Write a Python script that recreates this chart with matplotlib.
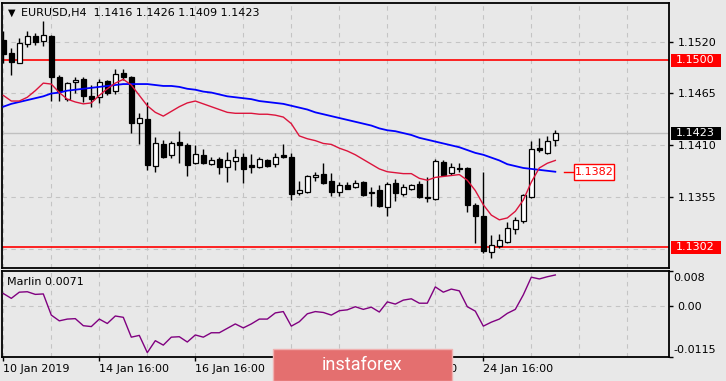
"""
EURUSD H4 chart with two moving averages and the Marlin oscillator,
redrawn in the style of a MetaTrader terminal screenshot.

Output: out.png (726x381)
"""

import numpy as np
import matplotlib
matplotlib.use('Agg')  # no display
import matplotlib.pyplot as plt
from matplotlib.patches import Rectangle
from matplotlib.transforms import blended_transform_factory

plt.rcParams['font.family'] = ['DejaVu Sans']

# ---------------- data (one entry per H4 bar) ----------------
opens = [1.1522, 1.1508, 1.1497, 1.1518, 1.1526, 1.1521, 1.1526, 1.1483, 1.1459, 1.1477,
         1.1480, 1.1462, 1.1461, 1.1478, 1.1468, 1.1487, 1.1483, 1.1434, 1.1438, 1.1388,
         1.1411, 1.1400, 1.1414, 1.1410, 1.1391, 1.1400, 1.1390, 1.1396, 1.1387, 1.1393,
         1.1398, 1.1389, 1.1387, 1.1394, 1.1390, 1.1400, 1.1398, 1.1359, 1.1360, 1.1376,
         1.1380, 1.1372, 1.1361, 1.1368, 1.1366, 1.1371, 1.1359, 1.1363, 1.1345, 1.1370,
         1.1358, 1.1364, 1.1369, 1.1355, 1.1353, 1.1392, 1.1381, 1.1386, 1.1386, 1.1347,
         1.1335, 1.1297, 1.1303, 1.1307, 1.1321, 1.1330, 1.1355, 1.1407, 1.1402, 1.1416]
highs = [1.1531, 1.1513, 1.1524, 1.1531, 1.1529, 1.1542, 1.1527, 1.1485, 1.1477, 1.1483,
         1.1483, 1.1474, 1.1480, 1.1479, 1.1491, 1.1491, 1.1484, 1.1444, 1.1456, 1.1419,
         1.1416, 1.1415, 1.1425, 1.1412, 1.1410, 1.1406, 1.1398, 1.1398, 1.1403, 1.1406,
         1.1402, 1.1401, 1.1398, 1.1396, 1.1402, 1.1411, 1.1402, 1.1372, 1.1379, 1.1382,
         1.1391, 1.1381, 1.1371, 1.1371, 1.1373, 1.1372, 1.1366, 1.1368, 1.1371, 1.1374,
         1.1369, 1.1369, 1.1372, 1.1376, 1.1396, 1.1394, 1.1391, 1.1391, 1.1387, 1.1349,
         1.1382, 1.1315, 1.1316, 1.1329, 1.1334, 1.1358, 1.1415, 1.1418, 1.1420, 1.1426]
lows = [1.1497, 1.1485, 1.1497, 1.1514, 1.1516, 1.1515, 1.1457, 1.1457, 1.1457, 1.1466,
        1.1456, 1.1451, 1.1455, 1.1463, 1.1464, 1.1479, 1.1423, 1.1411, 1.1384, 1.1382,
        1.1397, 1.1397, 1.1391, 1.1377, 1.1390, 1.1390, 1.1389, 1.1380, 1.1371, 1.1384,
        1.1370, 1.1381, 1.1386, 1.1387, 1.1387, 1.1397, 1.1352, 1.1357, 1.1359, 1.1372,
        1.1369, 1.1356, 1.1356, 1.1364, 1.1365, 1.1356, 1.1346, 1.1345, 1.1335, 1.1351,
        1.1356, 1.1363, 1.1354, 1.1350, 1.1352, 1.1377, 1.1379, 1.1382, 1.1339, 1.1306,
        1.1296, 1.1290, 1.1301, 1.1306, 1.1316, 1.1328, 1.1354, 1.1403, 1.1401, 1.1409]
closes = [1.1507, 1.1498, 1.1519, 1.1526, 1.1520, 1.1527, 1.1483, 1.1468, 1.1476, 1.1479,
          1.1462, 1.1459, 1.1477, 1.1466, 1.1486, 1.1483, 1.1434, 1.1439, 1.1389, 1.1412,
          1.1398, 1.1412, 1.1410, 1.1389, 1.1401, 1.1391, 1.1394, 1.1387, 1.1394, 1.1398,
          1.1385, 1.1387, 1.1396, 1.1388, 1.1398, 1.1398, 1.1358, 1.1363, 1.1377, 1.1379,
          1.1370, 1.1360, 1.1368, 1.1364, 1.1370, 1.1357, 1.1361, 1.1346, 1.1369, 1.1359,
          1.1366, 1.1368, 1.1355, 1.1354, 1.1393, 1.1379, 1.1387, 1.1385, 1.1347, 1.1335,
          1.1298, 1.1304, 1.1310, 1.1322, 1.1331, 1.1357, 1.1406, 1.1405, 1.1415, 1.1423]

# slow MA (blue) and fast MA (red)
ma_slow = [1.1451, 1.1454, 1.1456, 1.1458, 1.1460, 1.1462, 1.1465, 1.1466, 1.1468, 1.1469,
           1.1470, 1.1471, 1.1472, 1.1473, 1.1474, 1.1475, 1.1475, 1.1475, 1.1475, 1.1474,
           1.1473, 1.1473, 1.1472, 1.1470, 1.1469, 1.1467, 1.1466, 1.1464, 1.1462, 1.1461,
           1.1460, 1.1459, 1.1457, 1.1456, 1.1455, 1.1454, 1.1452, 1.1450, 1.1448, 1.1445,
           1.1443, 1.1441, 1.1439, 1.1437, 1.1435, 1.1433, 1.1431, 1.1428, 1.1426, 1.1425,
           1.1423, 1.1421, 1.1418, 1.1416, 1.1414, 1.1412, 1.1410, 1.1408, 1.1405, 1.1402,
           1.1400, 1.1397, 1.1394, 1.1390, 1.1388, 1.1386, 1.1385, 1.1384, 1.1383, 1.1382]
ma_fast = [1.1463, 1.1457, 1.1457, 1.1461, 1.1468, 1.1476, 1.1475, 1.1466, 1.1459, 1.1456,
           1.1454, 1.1455, 1.1463, 1.1470, 1.1476, 1.1480, 1.1474, 1.1463, 1.1452, 1.1445,
           1.1441, 1.1446, 1.1451, 1.1455, 1.1457, 1.1454, 1.1451, 1.1448, 1.1445, 1.1444,
           1.1444, 1.1444, 1.1443, 1.1443, 1.1442, 1.1440, 1.1433, 1.1420, 1.1417, 1.1415,
           1.1412, 1.1411, 1.1407, 1.1404, 1.1400, 1.1395, 1.1390, 1.1385, 1.1382, 1.1381,
           1.1380, 1.1380, 1.1375, 1.1373, 1.1376, 1.1377, 1.1378, 1.1379, 1.1373, 1.1362,
           1.1347, 1.1336, 1.1331, 1.1333, 1.1340, 1.1352, 1.1371, 1.1386, 1.1391, 1.1394]

# Marlin oscillator
marlin = [0.0029, 0.0018, 0.0032, 0.0033, 0.0027, 0.0028, -0.0020, -0.0033, -0.0029, -0.0028,
          -0.0044, -0.0046, -0.0029, -0.0039, -0.0022, -0.0025, -0.0070, -0.0066, -0.0105, -0.0078,
          -0.0088, -0.0070, -0.0069, -0.0081, -0.0065, -0.0070, -0.0060, -0.0060, -0.0050, -0.0040,
          -0.0049, -0.0040, -0.0029, -0.0029, -0.0015, -0.0012, -0.0045, -0.0035, -0.0017, -0.0012,
          -0.0014, -0.0020, -0.0010, -0.0008, -0.0001, -0.0007, -0.0002, -0.0013, 0.0010, 0.0005,
          0.0014, 0.0017, 0.0007, 0.0007, 0.0044, 0.0032, 0.0039, 0.0035, -0.0001, -0.0011,
          -0.0045, -0.0036, -0.0029, -0.0016, -0.0007, 0.0026, 0.0066, 0.0062, 0.0067, 0.0071]

# axis labels / levels
date_ticks = [0, 12, 24, 36, 48, 60]
date_labels = ['10 Jan 2019', '14 Jan 16:00', '16 Jan 16:00', '18 Jan 16:00',
               '22 Jan 16:00', '24 Jan 16:00']
price_ticks = [1.1520, 1.1465, 1.1410, 1.1355]
price_grid = [1.1520, 1.1465, 1.1410, 1.1355, 1.1300]
levels = [1.1500, 1.1302]
ma_label = 1.1382
title = 'EURUSD,H4  1.1416 1.1426 1.1409 1.1423'
marlin_label = 'Marlin 0.0071'

# ---------------- styling ----------------
BG = '#e8e8e8'
GRID = '#c4c4c4'
W, H = 726, 381


def fx(px):
    return px / W


def fy(py):
    return 1 - py / H


def box_label(ax, y, text, fc, tc, half_h):
    """Coloured price label on the right-hand scale."""
    trans = blended_transform_factory(ax.transAxes, ax.transData)
    ax.add_patch(Rectangle((1.003, y - half_h), 0.075, 2 * half_h, transform=trans,
                           fc=fc, ec='none', clip_on=False, zorder=10))
    ax.text(1.0105, y, text, transform=trans, color=tc, fontsize=8,
            va='center', ha='left', clip_on=False, zorder=11)


fig = plt.figure(figsize=(W / 100, H / 100), dpi=100, facecolor=BG)
ax = fig.add_axes([fx(2), fy(268), fx(669) - fx(2), fy(2.7) - fy(268)], facecolor=BG)
ax2 = fig.add_axes([fx(2), fy(356.7), fx(669) - fx(2), fy(270.7) - fy(356.7)], facecolor=BG)

x = np.arange(len(closes))
o = np.array(opens)
c = np.array(closes)
xlim = (-0.1625, 83.21)

# ---- main price panel ----
for v in price_grid:
    ax.axhline(v, color=GRID, lw=0.8, ls=(0, (4, 4)), zorder=0)
for b in range(0, 84, 6):
    ax.axvline(b, color=GRID, lw=0.8, ls=(0, (4, 4)), zorder=0)
    ax2.axvline(b, color=GRID, lw=0.8, ls=(0, (4, 4)), zorder=0)

ax.axhline(closes[-1], color='#c0c0c0', lw=1, zorder=1)  # bid line
for v in levels:
    ax.axhline(v, color='#ff0000', lw=1.2, zorder=2)

# candles: wick + body
ax.vlines(x, lows, highs, color='black', lw=1, zorder=3)
body_h = np.maximum(np.abs(c - o), 0.00003)
body_col = np.where(c >= o, 'white', 'black')
ax.bar(x, body_h, bottom=np.minimum(o, c), width=0.6, color=body_col,
       edgecolor='black', linewidth=0.9, zorder=4)

ax.plot(x, ma_slow, color='#0000ff', lw=1.3, zorder=5)
ax.plot(x, ma_fast, color='#dc143c', lw=1.0, zorder=5)

# label for the slow MA value
ax.plot([70.09, 71.21], [ma_label, ma_label], color='#ff0000', lw=1, zorder=6)
ax.add_patch(Rectangle((71.34, ma_label - 0.00085), 5.0, 0.0017, fc='white',
                       ec='#ff0000', lw=1, zorder=6))
ax.text(73.84, ma_label, f'{ma_label:.4f}', color='#ff0000', fontsize=8,
        ha='center', va='center', zorder=7)

ax.set_xlim(*xlim)
ax.set_ylim(1.12799, 1.15613)
ax.tick_params(axis='x', bottom=False, labelbottom=False)
ax.yaxis.tick_right()
ax.set_yticks(price_ticks)
ax.set_yticklabels([f'{v:.4f}' for v in price_ticks])
ax.tick_params(axis='y', direction='out', length=3, width=1, labelsize=8, pad=3)

half = 6.5 / 9423
box_label(ax, levels[0], f'{levels[0]:.4f}', '#ff0000', 'white', half)
box_label(ax, closes[-1], f'{closes[-1]:.4f}', 'black', 'white', half)
box_label(ax, levels[1], f'{levels[1]:.4f}', '#ff0000', 'white', half)

# ---- Marlin panel ----
ax2.axhline(0, color=GRID, lw=0.8, ls=(0, (4, 4)), zorder=0)
ax2.plot(x, marlin, color='#800080', lw=1.0, zorder=3)
ax2.set_xlim(*xlim)
ax2.set_ylim(-0.01143, 0.00807)
ax2.yaxis.tick_right()
ax2.set_yticks([-0.01143, 0.0, 0.00807])
ax2.set_yticklabels(['', '0.00', ''])
ax2.tick_params(axis='y', direction='out', length=3, width=1, labelsize=8, pad=3)
ax2.text(1.0070, 0.975, '0.008', transform=ax2.transAxes, fontsize=8, va='top', ha='left')
ax2.text(1.0070, 0.025, '-0.0115', transform=ax2.transAxes, fontsize=8, va='bottom', ha='left')

ax2.set_xticks(date_ticks)
ax2.set_xticklabels(date_labels)
for lab in ax2.get_xticklabels():
    lab.set_ha('left')
ax2.tick_params(axis='x', direction='out', length=3, width=1, labelsize=8, pad=2)

for a in (ax, ax2):
    for s in a.spines.values():
        s.set_color('black')
        s.set_linewidth(1.3)

# ---- header texts ----
fig.text(fx(8), fy(13), '\u25bc', fontsize=7, va='center', ha='left')
fig.text(fx(21), fy(13), title, fontsize=8, va='center', ha='left')
fig.text(fx(7), fy(282), marlin_label, fontsize=8, va='center', ha='left')

# ---- watermark ----
fig.add_artist(Rectangle((fx(273), fy(381)), fx(452) - fx(273), fy(349) - fy(381),
                         transform=fig.transFigure, fc='#e46f6f', ec='#f0b0b0',
                         lw=1, zorder=10))
fig.text(fx(362), fy(365), 'instaforex', color='white', fontsize=13,
         family=['Roboto', 'DejaVu Sans'], ha='center', va='center', zorder=11)

plt.savefig('out.png', dpi=100, facecolor=BG)
plt.close()
